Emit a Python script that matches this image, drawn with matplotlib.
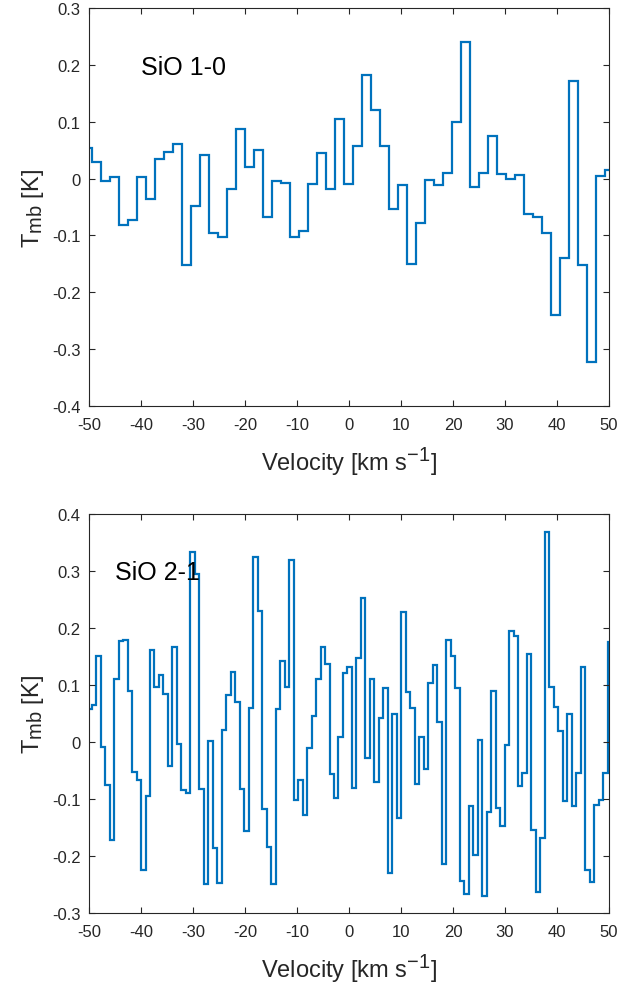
import matplotlib
matplotlib.use("Agg")
import matplotlib.pyplot as plt
import matplotlib._mathtext as mathtext_internal
import numpy as np
from matplotlib.ticker import FuncFormatter

# SiO 1-0 spectrum: channel width and first channel edge (km/s)
SIO10_DV = 1.731
SIO10_V0 = -51.10
SIO10_TMB = [
    0.053, 0.030, -0.005, 0.003, -0.081, -0.072, 0.002, -0.036, 0.034, 0.046,
    0.060, -0.152, -0.049, 0.041, -0.096, -0.102, -0.019, 0.087, 0.021, 0.050,
    -0.067, -0.005, -0.008, -0.102, -0.093, -0.009, 0.045, -0.018, 0.105, -0.009,
    0.057, 0.183, 0.121, 0.058, -0.054, -0.011, -0.150, -0.078, -0.003, -0.012,
    0.009, 0.099, 0.240, -0.015, 0.009, 0.075, 0.008, -0.001, 0.007, -0.063,
    -0.068, -0.095, -0.240, -0.140, 0.171, -0.152, -0.323, 0.004, 0.015,
]

# SiO 2-1 spectrum
SIO21_DV = 0.863
SIO21_V0 = -50.35
SIO21_TMB = [
    0.058, 0.065, 0.151, -0.008, -0.075, -0.172, 0.110, 0.177, 0.179, 0.090,
    -0.052, -0.066, -0.224, -0.094, 0.162, 0.096, 0.118, 0.084, -0.042, 0.167,
    -0.004, -0.084, -0.089, 0.333, 0.294, -0.083, -0.249, 0.001, -0.186, -0.247,
    0.021, 0.083, 0.123, 0.071, -0.083, -0.156, 0.060, 0.325, 0.230, -0.117,
    -0.184, -0.249, 0.058, 0.142, 0.097, 0.319, -0.101, -0.067, -0.128, -0.011,
    0.046, 0.110, 0.167, 0.137, -0.057, -0.099, 0.008, 0.121, 0.131, -0.081,
    0.147, 0.253, -0.028, 0.110, -0.070, 0.042, 0.095, -0.230, 0.049, -0.134,
    0.228, 0.087, 0.060, -0.074, 0.008, -0.048, 0.103, 0.135, 0.035, -0.214,
    0.179, 0.151, 0.095, -0.243, -0.266, -0.113, -0.199, 0.004, -0.270, -0.123,
    0.090, -0.116, -0.147, -0.005, 0.195, 0.186, -0.078, -0.054, 0.155, -0.155,
    -0.264, -0.168, 0.368, 0.097, 0.062, 0.020, -0.104, 0.049, -0.113, -0.054,
    0.132, -0.224, -0.246, -0.110, -0.101, -0.054, 0.175,
]

X_TICKS = [-50, -40, -30, -20, -10, 0, 10, 20, 30, 40, 50]
TOP_YTICKS = [-0.4, -0.3, -0.2, -0.1, 0, 0.1, 0.2, 0.3]
BOT_YTICKS = [-0.3, -0.2, -0.1, 0, 0.1, 0.2, 0.3, 0.4]

LINE_COLOR = "#0072BD"
AXIS_COLOR = "#262626"

# MATLAB-style sub/superscripts are a bit larger than matplotlib's default
mathtext_internal.SHRINK_FACTOR = 0.85

plt.rcParams.update(
    {
        "font.family": "Liberation Sans",
        "mathtext.fontset": "custom",
        "mathtext.rm": "Liberation Sans",
        "mathtext.it": "Liberation Sans:italic",
        "axes.unicode_minus": False,
    }
)


def fmt(v, _pos):
    return f"{v:g}"


def draw_panel(ax, tmb, v0, dv, yticks, label, label_xy):
    edges = v0 + dv * np.arange(len(tmb) + 1)
    ax.stairs(tmb, edges, color=LINE_COLOR, linewidth=1.6, baseline=None)
    ax.set_xlim(-50, 50)
    ax.set_ylim(yticks[0], yticks[-1])
    ax.set_xticks(X_TICKS)
    ax.set_yticks(yticks)
    ax.xaxis.set_major_formatter(FuncFormatter(fmt))
    ax.yaxis.set_major_formatter(FuncFormatter(fmt))
    ax.tick_params(direction="in", length=4, width=0.8, colors=AXIS_COLOR,
                   labelsize=12, top=True, right=True, pad=8)
    ax.tick_params(axis="y", pad=6)
    for spine in ax.spines.values():
        spine.set_color(AXIS_COLOR)
        spine.set_linewidth(0.8)
    ax.set_xlabel(r"Velocity [km s$^{-1}$]", fontsize=17, color=AXIS_COLOR, labelpad=9)
    ax.set_ylabel(r"T$_{\rm mb}$ [K]", fontsize=17, color=AXIS_COLOR, labelpad=4)
    ax.text(label_xy[0], label_xy[1], label, fontsize=18, ha="left", va="center", color="black")


fig = plt.figure(figsize=(6.38, 9.87), dpi=100, facecolor="white")
ax_top = fig.add_axes([89 / 638, 1 - 407 / 987, 520 / 638, 398 / 987])
ax_bot = fig.add_axes([89 / 638, 1 - 914 / 987, 520 / 638, 399 / 987])

draw_panel(ax_top, SIO10_TMB, SIO10_V0, SIO10_DV, TOP_YTICKS, "SiO 1-0", (-40, 0.196))
draw_panel(ax_bot, SIO21_TMB, SIO21_V0, SIO21_DV, BOT_YTICKS, "SiO 2-1", (-45, 0.298))

fig.savefig("out.png", dpi=100)
